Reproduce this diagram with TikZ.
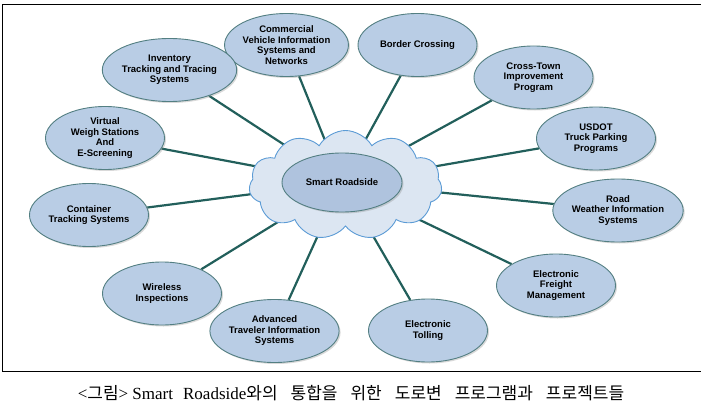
\documentclass[tikz,border=0pt]{standalone}
\usepackage{fontspec}
\setmainfont{Liberation Serif}
\setsansfont{Liberation Sans}
\newfontfamily\cjk{Noto Sans CJK KR}
\usepackage{tikz}
\usetikzlibrary{shapes.geometric, shapes.symbols, backgrounds, shadows}
\definecolor{topicfill}{HTML}{B9CDE5}
\definecolor{hubfill}{HTML}{AFC3DE}
\definecolor{topicline}{HTML}{537F82}
\definecolor{linkcol}{HTML}{225F5B}
\definecolor{cloudfill}{HTML}{DCE6F2}
\definecolor{cloudline}{HTML}{5B9BD5}
\tikzset{
  topic/.style={ellipse, draw=topicline, fill=topicfill, line width=0.9pt,
    minimum width=119pt, minimum height=63pt, inner sep=0pt, align=center,
    font=\sffamily\bfseries\fontsize{9.5}{10.5}\selectfont,
    drop shadow={shadow xshift=1.5pt, shadow yshift=-1.5pt, opacity=.3, fill=gray}}
}
\tikzset{
  link/.style={draw=linkcol, line width=2.2pt}
}
\newcommand{\gap}{\hspace{13pt}}
\begin{document}
\begin{tikzpicture}[x=1pt,y=-1pt]
  \useasboundingbox (0,0) rectangle (701,404);
  \draw[line width=1pt] (701,4.5) -- (2.5,4.5) -- (2.5,371.5) -- (701,371.5);
  % roadside cloud in the middle
  \node[cloud, cloud puffs=11, cloud puff arc=120, cloud ignores aspect,
    draw=cloudline, fill=cloudfill, line width=0.9pt, inner sep=0pt,
    minimum width=193pt, minimum height=109pt] (rsCloud) at (345.5,185) {};
  \node[topic, minimum width=120pt, minimum height=59pt, fill=hubfill] (hub) at (342,182.5) {Smart Roadside};
  % programs around it
  \node[topic] (cvis) at (286.5,45) {Commercial\\Vehicle Information\\Systems and\\Networks};
  \node[topic] (itts) at (169.5,70) {Inventory\\Tracking and Tracing\\Systems};
  \node[topic] (border) at (417.5,45) {Border Crossing};
  \node[topic] (crossTown) at (533.5,77.5) {Cross-Town\\Improvement\\Program};
  \node[topic] (usdot) at (596,138.5) {USDOT\\Truck Parking\\Programs};
  \node[topic] (rwis) at (618,210.5) {Road\\Weather Information\\Systems};
  \node[topic] (freight) at (556,285.5) {Electronic\\Freight\\Management};
  \node[topic] (tolling) at (428,330.5) {Electronic\\Tolling};
  \node[topic] (atis) at (274.5,331) {Advanced\\Traveler Information\\Systems};
  \node[topic] (wireless) at (162,293.5) {Wireless\\Inspections};
  \node[topic] (container) at (89,215) {Container\\Tracking Systems};
  \node[topic] (virtual) at (105,138) {Virtual\\Weigh Stations\\And\\E-Screening};
  \begin{scope}[on background layer]
    \foreach \t in {cvis,itts,border,crossTown,usdot,rwis,freight,tolling,atis,wireless,container,virtual}
      \draw[link] (hub) -- (\t);
  \end{scope}
  \node[font=\fontsize{17}{20}\selectfont] (caption) at (351,393)
    {<{\cjk 그림}> Smart\hspace{10pt}Roadside{\cjk 와의\gap 통합을\gap 위한\gap 도로변\gap 프로그램과\gap 프로젝트들}};
\end{tikzpicture}
\end{document}
